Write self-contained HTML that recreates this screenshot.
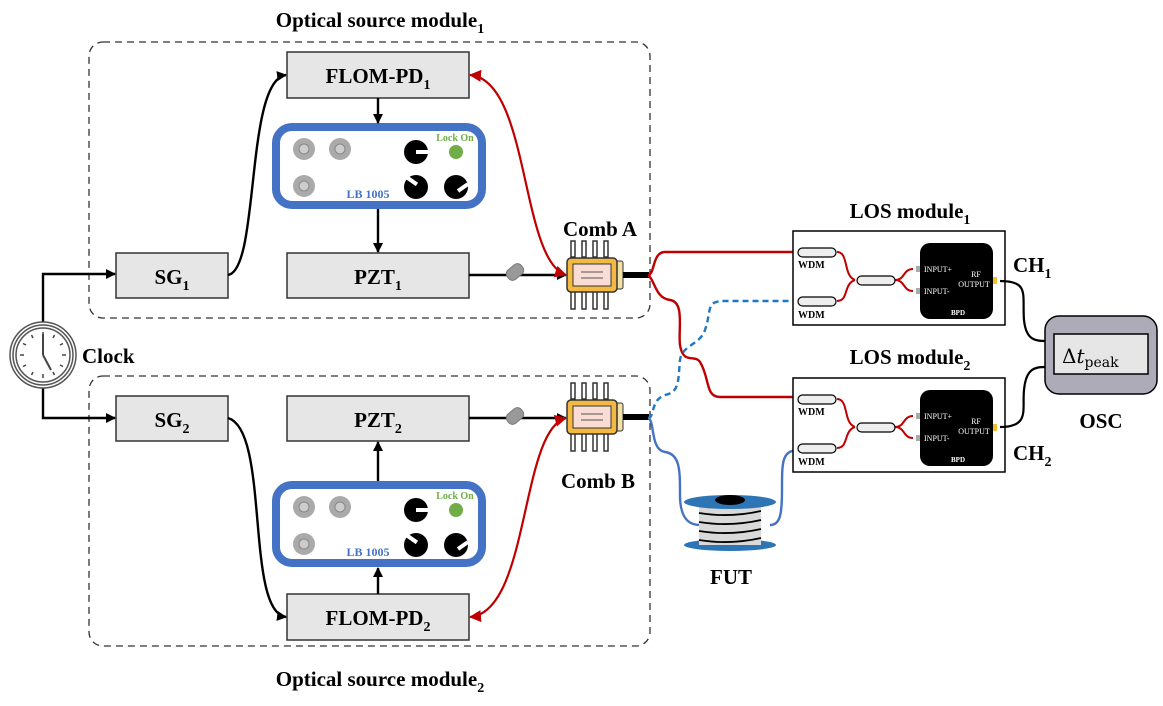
<!DOCTYPE html>
<html><head><meta charset="utf-8"><style>body{margin:0;background:#fff}svg{display:block}</style></head><body>
<svg width="1163" height="706" viewBox="0 0 1163 706" xmlns="http://www.w3.org/2000/svg" font-family="Liberation Serif, serif" font-weight="bold">
<defs>
<marker id="ab" markerWidth="10" markerHeight="10" refX="9" refY="5" orient="auto" markerUnits="userSpaceOnUse"><path d="M0,0L10,5L0,10z" fill="#000"/></marker>
<marker id="ar" markerWidth="12" markerHeight="12" refX="11" refY="6" orient="auto-start-reverse" markerUnits="userSpaceOnUse"><path d="M0,0L12,6L0,12z" fill="#c00000"/></marker>
<g id="lb">
<rect x="4" y="4" width="206" height="78" rx="16" fill="#fff" stroke="#4472c4" stroke-width="8"/>
<circle cx="32" cy="26" r="11" fill="#aaa"/><circle cx="32" cy="26" r="5" fill="#ccc" stroke="#888"/>
<circle cx="68" cy="26" r="11" fill="#aaa"/><circle cx="68" cy="26" r="5" fill="#ccc" stroke="#888"/>
<circle cx="32" cy="63" r="11" fill="#aaa"/><circle cx="32" cy="63" r="5" fill="#ccc" stroke="#888"/>
<circle cx="144" cy="29" r="12" fill="#000"/><rect x="144" y="27" width="13" height="4" fill="#fff"/>
<circle cx="144" cy="64" r="12" fill="#000"/><rect x="134" y="56" width="12" height="4" fill="#fff" transform="rotate(35 140 58)"/>
<circle cx="184" cy="64" r="12" fill="#000"/><rect x="186" y="66" width="12" height="4" fill="#fff" transform="rotate(-35 186 68)"/>
<circle cx="184" cy="29" r="7" fill="#70ad47"/>
<text x="183" y="18" font-size="10" fill="#70ad47" text-anchor="middle">Lock On</text>
<text x="96" y="75" font-size="12" fill="#4472c4" text-anchor="middle">LB 1005</text>
</g>
<g id="comb">
<g fill="#fff" stroke="#333" stroke-width="1.5">
<rect x="4" y="-17" width="4" height="16"/><rect x="15" y="-17" width="4" height="16"/><rect x="26" y="-17" width="4" height="16"/><rect x="37" y="-17" width="4" height="16"/>
<rect x="4" y="33" width="4" height="18"/><rect x="15" y="33" width="4" height="18"/><rect x="26" y="33" width="4" height="18"/><rect x="37" y="33" width="4" height="18"/>
</g>
<rect x="48" y="3" width="8" height="28" rx="2" fill="#f2e0a8" stroke="#333"/>
<rect x="0" y="0" width="50" height="34" rx="4" fill="#f4b942" stroke="#333" stroke-width="1.5"/>
<rect x="6" y="6" width="38" height="22" fill="#f9dcd3" stroke="#333"/>
<line x1="14" y1="14" x2="36" y2="14" stroke="#555"/><line x1="14" y1="20" x2="36" y2="20" stroke="#555"/>
<rect x="56" y="14" width="26" height="6" fill="#000"/>
</g>
<g id="los">
<rect x="0" y="0" width="212" height="94" fill="#fff" stroke="#000" stroke-width="1.5"/>
<path d="M44,21 C56,21 50,45 62,49 M44,70 C56,70 50,53 62,49 M102,49 C112,49 110,38 120,38 M102,49 C112,49 110,60 120,60" fill="none" stroke="#c00000" stroke-width="2"/>
<rect x="5" y="17" width="38" height="9" rx="4.5" fill="#eee" stroke="#000" stroke-width="1.2"/>
<rect x="5" y="66" width="38" height="9" rx="4.5" fill="#eee" stroke="#000" stroke-width="1.2"/>
<text x="5" y="37" font-size="10">WDM</text><text x="5" y="87" font-size="10">WDM</text>
<rect x="64" y="45" width="38" height="9" rx="4.5" fill="#eee" stroke="#000" stroke-width="1.2"/>
<rect x="127" y="12" width="73" height="76" rx="10" fill="#000"/>
<rect x="123" y="35" width="4" height="6" fill="#aaa"/><rect x="123" y="57" width="4" height="6" fill="#aaa"/>
<rect x="200" y="46" width="4" height="7" fill="#f0c030"/>
<text x="131" y="41" font-size="8" fill="#fff" font-weight="normal">INPUT+</text>
<text x="131" y="63" font-size="8" fill="#fff" font-weight="normal">INPUT-</text>
<text x="183" y="46" font-size="8" fill="#fff" text-anchor="middle" font-weight="normal">RF</text>
<text x="181" y="56" font-size="8" fill="#fff" text-anchor="middle" font-weight="normal">OUTPUT</text>
<text x="165" y="84" font-size="7" fill="#fff" text-anchor="middle">BPD</text>
</g>
</defs>

<rect x="89" y="42" width="561" height="276" rx="14" fill="none" stroke="#333" stroke-width="1.3" stroke-dasharray="7,5"/>
<rect x="89" y="376" width="561" height="270" rx="14" fill="none" stroke="#333" stroke-width="1.3" stroke-dasharray="7,5"/>
<text x="380" y="27" font-size="21" text-anchor="middle">Optical source module<tspan font-size="14" dy="6">1</tspan></text>
<text x="380" y="686" font-size="21" text-anchor="middle">Optical source module<tspan font-size="14" dy="6">2</tspan></text>

<g fill="#e7e6e6" stroke="#333" stroke-width="1.5">
<rect x="287" y="52" width="182" height="46"/><rect x="287" y="253" width="182" height="45"/><rect x="116" y="253" width="112" height="45"/>
<rect x="116" y="396" width="112" height="45"/><rect x="287" y="396" width="182" height="45"/><rect x="287" y="594" width="182" height="46"/>
</g>
<g font-size="21" text-anchor="middle">
<text x="378" y="83">FLOM-PD<tspan font-size="14" dy="6">1</tspan></text>
<text x="378" y="284">PZT<tspan font-size="14" dy="6">1</tspan></text>
<text x="172" y="284">SG<tspan font-size="14" dy="6">1</tspan></text>
<text x="172" y="427">SG<tspan font-size="14" dy="6">2</tspan></text>
<text x="378" y="427">PZT<tspan font-size="14" dy="6">2</tspan></text>
<text x="378" y="625">FLOM-PD<tspan font-size="14" dy="6">2</tspan></text>
</g>
<use href="#lb" x="272" y="123"/>
<use href="#lb" x="272" y="481"/>

<g stroke="#000" stroke-width="2.4" fill="none" marker-end="url(#ab)">
<line x1="378" y1="98" x2="378" y2="123"/>
<line x1="378" y1="209" x2="378" y2="252"/>
<line x1="378" y1="481" x2="378" y2="442"/>
<line x1="378" y1="594" x2="378" y2="568"/>
<path d="M228,275 C260,270 245,80 286,75"/>
<path d="M228,418 C270,430 245,612 286,617"/>
<path d="M43,322 V274 H115"/>
<path d="M43,388 V418 H115"/>
<line x1="469" y1="275" x2="566" y2="275"/>
<line x1="469" y1="418" x2="566" y2="418"/>
</g>
<g fill="#999" stroke="#777">
<rect x="506" y="266" width="18" height="12" rx="5" transform="rotate(-40 515 272)"/>
<rect x="506" y="410" width="18" height="12" rx="5" transform="rotate(-40 515 416)"/>
</g>

<circle cx="43" cy="355" r="33" fill="#fff" stroke="#555" stroke-width="1.5"/>
<circle cx="43" cy="355" r="30" fill="none" stroke="#555" stroke-width="1.5"/>
<circle cx="43" cy="355" r="27" fill="#fff" stroke="#555" stroke-width="1.5"/>
<g stroke="#444" stroke-width="1.5">
<line x1="43" y1="332" x2="43" y2="336"/><line x1="43" y1="374" x2="43" y2="378"/><line x1="20" y1="355" x2="24" y2="355"/><line x1="62" y1="355" x2="66" y2="355"/>
<line x1="54.5" y1="335" x2="53" y2="338"/><line x1="63" y1="343.5" x2="60" y2="345"/><line x1="63" y1="366.5" x2="60" y2="365"/><line x1="54.5" y1="375" x2="53" y2="372"/>
<line x1="31.5" y1="335" x2="33" y2="338"/><line x1="23" y1="343.5" x2="26" y2="345"/><line x1="23" y1="366.5" x2="26" y2="365"/><line x1="31.5" y1="375" x2="33" y2="372"/>
<line x1="43" y1="355" x2="43" y2="334" stroke-width="2"/><line x1="43" y1="355" x2="51" y2="370" stroke-width="2"/>
</g>
<text x="82" y="363" font-size="21">Clock</text>

<path d="M566,275 C520,260 530,80 470,75" fill="none" stroke="#c00000" stroke-width="2.2" marker-start="url(#ar)" marker-end="url(#ar)"/>
<path d="M566,418 C520,430 530,612 470,617" fill="none" stroke="#c00000" stroke-width="2.2" marker-start="url(#ar)" marker-end="url(#ar)"/>
<use href="#comb" x="567" y="258"/>
<use href="#comb" x="567" y="400"/>
<text x="600" y="236" font-size="21" text-anchor="middle">Comb A</text>
<text x="598" y="488" font-size="21" text-anchor="middle">Comb B</text>

<g fill="none" stroke-width="2.4">
<path d="M648,275 C655,275 652,252 665,252 H800" stroke="#c00000"/>
<path d="M648,275 C655,280 655,298 670,300 C685,302 678,330 680,345 C683,365 695,354 700,362 C710,378 705,397 720,397 H800" stroke="#c00000"/>
<path d="M648,418 C655,418 650,400 665,395 C680,392 678,380 680,360 C682,345 700,345 705,330 C712,310 705,301 725,301 H800" stroke="#1f77c4" stroke-dasharray="6,4"/>
<path d="M648,418 C655,420 650,450 665,452 C680,454 680,470 680,495 C680,520 690,525 700,525 M770,525 C780,525 782,515 782,490 C782,460 782,450 800,450" stroke="#4472c4"/>
</g>

<ellipse cx="730" cy="545" rx="46" ry="6" fill="#2e75b6"/>
<rect x="699" y="503" width="62" height="42" fill="#d9d9d9"/>
<g stroke="#000" stroke-width="1.8" fill="none">
<path d="M699,513 Q730,518 761,511"/><path d="M699,522 Q730,527 761,520"/><path d="M699,531 Q730,536 761,529"/><path d="M699,540 Q730,545 761,538"/>
</g>
<ellipse cx="730" cy="502" rx="46" ry="7" fill="#2e75b6"/>
<ellipse cx="730" cy="500" rx="15" ry="5" fill="#000"/>
<text x="731" y="584" font-size="21" text-anchor="middle">FUT</text>

<use href="#los" x="793" y="231"/>
<use href="#los" x="793" y="378"/>
<text x="910" y="218" font-size="21" text-anchor="middle">LOS module<tspan font-size="14" dy="6">1</tspan></text>
<text x="910" y="364" font-size="21" text-anchor="middle">LOS module<tspan font-size="14" dy="6">2</tspan></text>
<text x="1013" y="272" font-size="21">CH<tspan font-size="14" dy="6">1</tspan></text>
<text x="1013" y="460" font-size="21">CH<tspan font-size="14" dy="6">2</tspan></text>
<path d="M1000,281 C1030,281 1022,295 1024,320 C1026,340 1035,341 1046,341" fill="none" stroke="#000" stroke-width="2.2"/>
<path d="M1000,427 C1030,427 1022,410 1024,390 C1026,368 1035,367 1046,367" fill="none" stroke="#000" stroke-width="2.2"/>

<rect x="1045" y="316" width="112" height="78" rx="14" fill="#aeabb8" stroke="#000" stroke-width="1.5"/>
<rect x="1054" y="334" width="94" height="40" fill="#e7e6e6" stroke="#000" stroke-width="1.5"/>
<text x="1062" y="363" font-size="20" font-weight="normal" font-family="DejaVu Serif, serif">Δ<tspan font-style="italic">t</tspan><tspan font-size="14" dy="4">peak</tspan></text>
<text x="1101" y="428" font-size="21" text-anchor="middle">OSC</text>
</svg>
</body></html>
